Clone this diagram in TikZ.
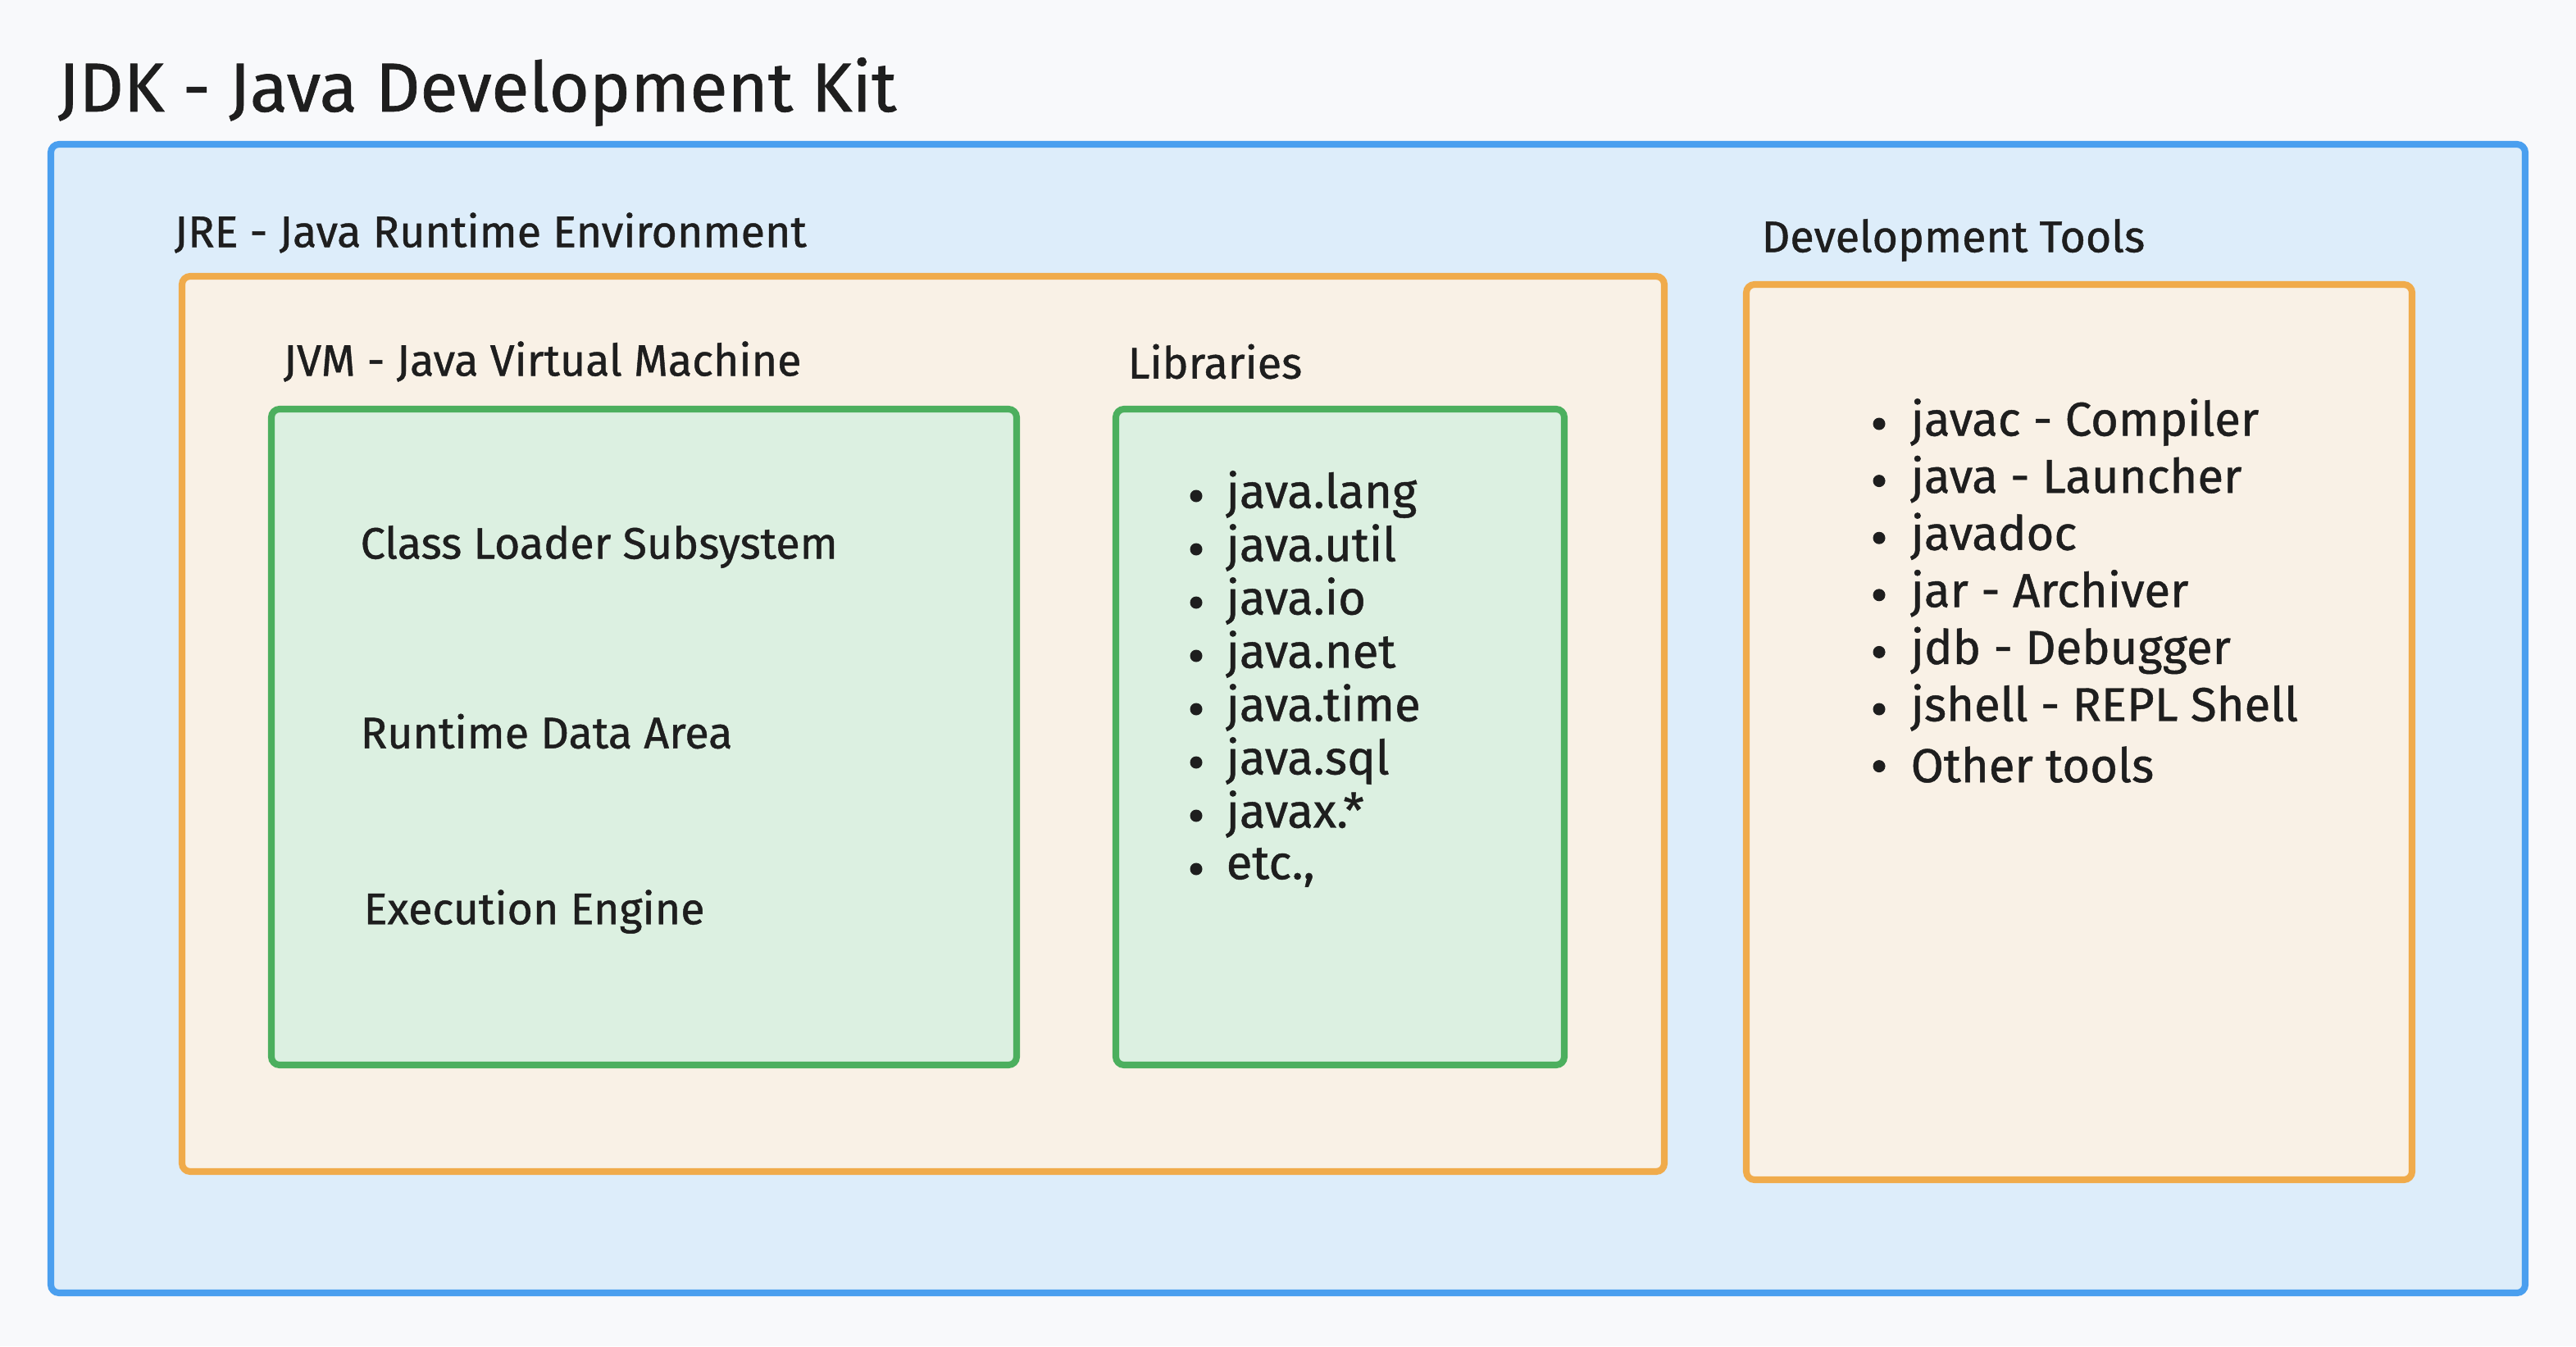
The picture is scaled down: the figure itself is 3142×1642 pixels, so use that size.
\documentclass[tikz,border=0pt]{standalone}
\usepackage{fontspec}
\setmainfont{Fira Sans}[FakeBold=0.8]
\definecolor{bgc}{HTML}{F8F9FB}
\definecolor{bluefill}{HTML}{DDEDFA}
\definecolor{bluedraw}{HTML}{4A9FEF}
\definecolor{orangefill}{HTML}{F9F1E6}
\definecolor{orangedraw}{HTML}{F0AB4B}
\definecolor{greenfill}{HTML}{DCF0E1}
\definecolor{greendraw}{HTML}{4CAF5E}
\definecolor{ink}{HTML}{1E1E1E}
\tikzset{
  panel/.style={line width=2.3pt, rounded corners=0.1cm},
  bluebox/.style={panel, draw=bluedraw, fill=bluefill},
  orangebox/.style={panel, draw=orangedraw, fill=orangefill},
  greenbox/.style={panel, draw=greendraw, fill=greenfill},
  lbl/.style={anchor=west, inner sep=0pt, text=ink, font=\fontsize{15.3}{18}\selectfont},
  titlelbl/.style={anchor=west, inner sep=0pt, text=ink, font=\fontsize{24}{28}\selectfont},
  item/.style={anchor=west, inner sep=0pt, text=ink, font=\fontsize{16.5}{20}\selectfont},
  dot/.style={circle, fill=ink, inner sep=0pt, minimum size=0.15cm},
}
\begin{document}
\begin{tikzpicture}[x=0.01cm, y=-0.01cm]
  \fill[bgc] (0,0) rectangle (3142,1642);
  \useasboundingbox (0,0) rectangle (3142,1642);

  \node[titlelbl] (title) at (70,112) {JDK - Java Development Kit};
  \draw[bluebox] (62,176) rectangle (3080,1577);

  \node[lbl] (jrelbl) at (212,284) {JRE - Java Runtime Environment};
  \draw[orangebox] (222,337) rectangle (2030,1429);

  \node[lbl] (jvmlbl) at (345,441) {JVM - Java Virtual Machine};
  \draw[greenbox] (331,499) rectangle (1240,1299);
  \node[lbl] (cls) at (439,667) {Class Loader Subsystem};
  \node[lbl] (rda) at (439,892) {Runtime Data Area};
  \node[lbl] (exe) at (443,1112) {Execution Engine};

  \node[lbl] (liblbl) at (1375,441) {Libraries};
  \draw[greenbox] (1361,499) rectangle (1908,1299);
  \foreach \t [count=\i from 0] in {java.lang, java.util, java.io, java.net, java.time, java.sql, javax.*, {etc.,}} {
    \node[dot] (libdot\i) at (1459,605+65*\i) {};
    \node[item] (lib\i) at (1495,603+65*\i) {\t};
  }

  \node[lbl] (devlbl) at (2148,293) {Development Tools};
  \draw[orangebox] (2130,347) rectangle (2942,1439);
  \foreach \t [count=\i from 0] in {javac - Compiler, java - Launcher, javadoc, jar - Archiver, jdb - Debugger, jshell - REPL Shell, Other tools} {
    \node[dot] (devdot\i) at (2292,517+69.6*\i) {};
    \node[item] (dev\i) at (2330,515+69.6*\i) {\t};
  }
\end{tikzpicture}
\end{document}
